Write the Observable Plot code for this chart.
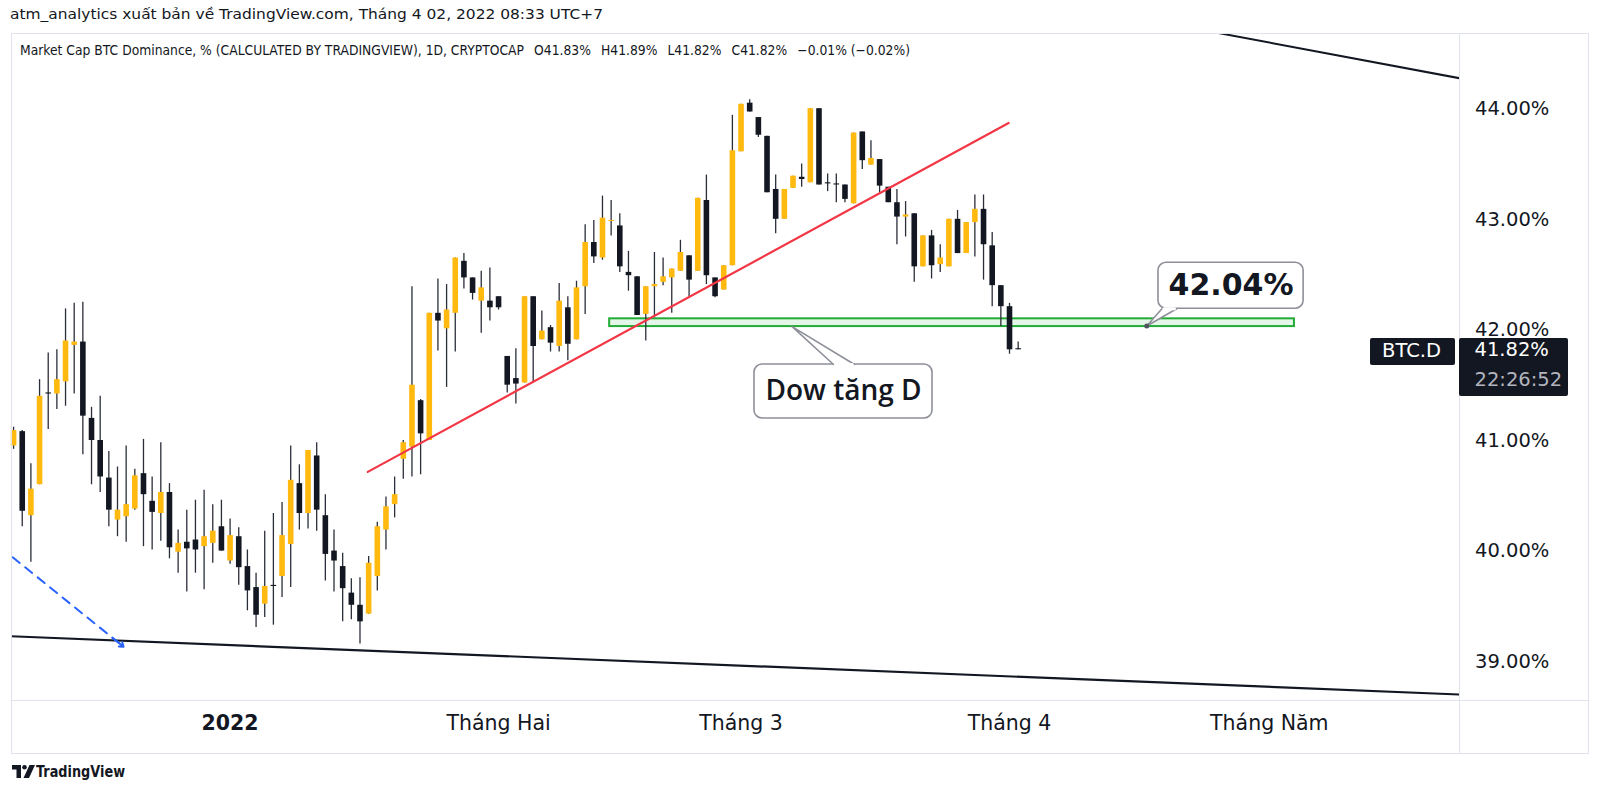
<!DOCTYPE html>
<html><head><meta charset="utf-8">
<script src="https://cdn.jsdelivr.net/npm/d3@7"></script>
<script src="https://cdn.jsdelivr.net/npm/@observablehq/plot@0.6"></script>
<style>
html,body{margin:0;padding:0;background:#fff;}
#wrap{position:relative;width:1600px;height:795px;overflow:hidden;font-family:"DejaVu Sans",sans-serif;color:#131722;}
#wrap > svg{position:absolute;left:0;top:0;}
.ov{position:absolute;white-space:nowrap;transform-origin:left center;}
.ln{position:absolute;background:#e0e3eb;}
</style></head><body><div id="wrap"></div>
<script>
// ---- daily candles, BTC dominance (%), starting 2021-12-07 ----
const startDate = "2021-12-07";
const opens = [40.95,41.08,40.32,40.60,41.43,41.42,41.53,41.86,41.89,41.20,41.00,40.66,40.28,40.31,40.38,40.70,40.45,40.34,40.53,39.99,40.08,40.10,40.04,40.07,40.22,
39.91,40.13,39.86,39.67,39.52,39.69,39.77,40.06,40.61,40.34,40.86,40.32,40.00,39.86,39.62,39.51,39.43,39.77,40.19,40.42,40.83,40.94,41.36,41.00,42.15,42.01,42.15,42.62,42.47,42.26,42.26,
42.30,41.76,41.56,41.52,42.30,41.91,42.02,41.85,42.20,41.91,42.39,42.79,42.65,42.98,42.94,42.52,42.48,42.14,42.39,42.43,42.47,42.53,42.67,42.53,43.17,42.47,42.36,42.58,
43.61,44.05,43.92,43.75,43.27,43.00,43.28,43.38,43.33,44.00,43.33,43.32,43.31,43.14,43.79,43.49,43.54,43.29,43.15,43.02,43.05,42.57,42.85,42.59,42.57,43.00,42.69,42.97,43.09,42.76,42.40,
42.21,41.83];
const highs = [41.12,41.09,40.79,41.55,41.79,41.82,42.19,42.24,42.25,41.30,41.40,40.90,40.76,40.95,40.74,41.01,40.67,40.98,40.61,40.19,40.37,40.46,40.55,40.42,40.46,
40.29,40.21,40.01,39.80,40.18,40.34,40.44,40.95,40.78,40.91,40.98,40.51,40.19,39.98,39.75,39.76,39.95,40.26,40.49,40.67,41.00,42.39,41.37,42.15,42.46,42.41,42.65,42.69,42.47,42.53,42.56,
42.30,41.76,41.83,42.30,42.30,42.17,42.04,42.42,42.30,42.44,42.95,42.99,43.21,43.17,43.05,42.71,42.48,42.39,42.70,42.65,42.55,42.81,42.67,43.19,43.40,42.47,42.58,43.94,
44.04,44.08,43.92,43.75,43.40,43.27,43.39,43.50,44.00,44.00,43.41,43.41,43.31,43.78,43.79,43.71,43.54,43.29,43.27,43.16,43.05,42.85,42.90,42.77,43.00,43.08,42.97,43.22,43.22,42.88,42.40,
42.24,41.89];
const lows = [40.92,40.22,39.90,40.60,41.10,41.28,41.31,41.42,40.87,40.60,40.53,40.22,40.13,40.08,40.37,40.04,40.01,40.09,39.93,39.80,39.63,39.80,39.65,39.89,40.00,
39.88,39.69,39.46,39.31,39.40,39.33,39.58,39.67,40.19,40.20,40.18,39.73,39.63,39.36,39.38,39.16,39.43,39.64,40.01,40.30,40.65,40.67,40.69,41.00,41.81,41.48,41.80,42.37,42.27,41.97,42.08,
42.18,41.43,41.33,41.52,41.52,41.91,41.80,41.80,41.72,41.91,42.14,42.60,42.63,42.85,42.52,42.35,42.13,41.90,42.11,42.40,42.15,42.53,42.30,42.53,42.41,42.29,42.36,42.58,
43.61,43.97,43.74,43.24,42.87,43.00,43.28,43.29,43.33,43.31,43.25,43.15,43.15,43.14,43.45,43.49,43.24,43.15,42.77,42.84,42.43,42.57,42.46,42.52,42.57,42.69,42.69,42.66,42.45,42.21,42.03,
41.78,41.82];
const closes = [41.09,40.36,40.56,41.40,41.42,41.55,41.90,41.89,41.22,41.00,40.67,40.37,40.37,40.42,40.68,40.51,40.35,40.53,40.03,40.07,40.02,40.01,40.13,40.18,40.00,
40.14,39.85,39.64,39.42,39.68,39.68,40.14,40.64,40.34,40.91,40.37,39.97,39.91,39.66,39.51,39.36,39.89,40.22,40.40,40.51,40.98,41.50,41.06,42.15,42.08,42.18,42.65,42.47,42.33,42.38,42.20,
42.20,41.50,41.51,42.30,41.85,41.99,41.88,42.26,41.87,42.38,42.79,42.66,43.01,42.99,42.57,42.49,42.13,42.39,42.41,42.48,42.55,42.70,42.45,43.19,42.49,42.30,42.58,43.62,
44.04,43.97,43.76,43.24,43.00,43.27,43.39,43.36,44.00,43.31,43.32,43.31,43.18,43.78,43.53,43.55,43.30,43.15,43.02,43.04,42.57,42.85,42.58,42.65,43.00,42.69,42.97,43.09,42.77,42.40,42.21,
41.82,41.82];

// ---- axis ticks ----
const yTicks = [39, 40, 41, 42, 43, 44];
const yearTickDates = ["2022-01-01"];
const yearTickLabels = ["2022"];
const monthTickDates = ["2022-02-01", "2022-03-01", "2022-04-01", "2022-05-01"];
const monthTickLabels = ["Tháng Hai", "Tháng 3", "Tháng 4", "Tháng Năm"];

// ---- drawings (days counted from 2022-01-01, values in %) ----
const topLineDays = [110, 142], topLineValues = [44.745, 44.275];
const bottomLineDays = [-26, 142], bottomLineValues = [39.232, 38.703];
const redLineDays = [15.9, 89.9], redLineValues = [40.716, 43.871];
const blueArrowDays = [-25.1, -12.3], blueArrowValues = [39.944, 39.135];
const zoneDays = [43.83, 122.9], zoneValues = [42.030, 42.100];
const priceNoteBoxDays = [107.2, 123.96], priceNoteBoxValues = [42.191, 42.607];
const priceNoteAnchor = [105.85, 42.035], priceNoteTailDays = [107.6, 109.3];
const priceNoteText = "42.04%";
const dowNoteBoxDays = [60.55, 81.11], dowNoteBoxValues = [41.199, 41.687];
const dowNoteAnchor = [64.9, 42.030], dowNoteTailDays = [69.68, 72.1];
const dowNoteText = "Dow tăng D";

const xDomainDays = [-25.24, 141.96];
const yDomain = [38.649, 44.680];

// ---- build ----
const base = Date.UTC(2022, 0, 1);
const T = d => new Date(base + d * 864e5);
const t0 = Date.parse(startDate + "T00:00:00Z");
const candles = opens.map((o, i) => ({date: new Date(t0 + i * 864e5), open: o, high: highs[i], low: lows[i], close: closes[i]}));
const bodyEnd = d => Math.abs(d.close - d.open) < 0.01 ? d.open + (d.close >= d.open ? 0.01 : -0.01) : d.close;
const upColor = "#FFB90F", downColor = "#131722", wickColor = "#2a2e39";
const seg = (days, vals) => days.map((d, i) => ({x: T(d), y: vals[i]}));

const blue = seg(blueArrowDays, blueArrowValues);
const blueHead = [{x1: T(blueArrowDays[0] + (blueArrowDays[1]-blueArrowDays[0])*0.9), y1: blueArrowValues[0] + (blueArrowValues[1]-blueArrowValues[0])*0.9, x2: blue[1].x, y2: blue[1].y}];

function callout(boxDays, boxVals, anchor, tailDays, tailEdgeValue) {
  return {
    box: [{x1: T(boxDays[0]), x2: T(boxDays[1]), y1: boxVals[0], y2: boxVals[1]}],
    tail: [{x: T(tailDays[0]), y: tailEdgeValue}, {x: T(anchor[0]), y: anchor[1]}, {x: T(tailDays[1]), y: tailEdgeValue}],
    cover: [{x: T(tailDays[0] + 0.25), y: tailEdgeValue}, {x: T(tailDays[1] - 0.25), y: tailEdgeValue}],
    center: [{x: T((boxDays[0] + boxDays[1]) / 2), y: (boxVals[0] + boxVals[1]) / 2}]
  };
}
const pn = callout(priceNoteBoxDays, priceNoteBoxValues, priceNoteAnchor, priceNoteTailDays, priceNoteBoxValues[0]);
const dn = callout(dowNoteBoxDays, dowNoteBoxValues, dowNoteAnchor, dowNoteTailDays, dowNoteBoxValues[1]);
const noteStroke = "#8e9099";

const labelMap = new Map();
monthTickDates.forEach((d, i) => labelMap.set(+new Date(d + "T00:00:00Z"), monthTickLabels[i]));
yearTickDates.forEach((d, i) => labelMap.set(+new Date(d + "T00:00:00Z"), yearTickLabels[i]));

const chart = Plot.plot({
  width: 1600, height: 795,
  marginLeft: 11, marginRight: 141, marginTop: 33, marginBottom: 95,
  x: {type: "utc", domain: xDomainDays.map(T)},
  y: {domain: yDomain},
  style: {fontFamily: "DejaVu Sans, sans-serif", background: "transparent", color: "#131722", overflow: "visible"},
  marks: [
    Plot.rect([{x1: T(zoneDays[0]), x2: T(zoneDays[1]), y1: zoneValues[0], y2: zoneValues[1]}], {x1: "x1", x2: "x2", y1: "y1", y2: "y2", fill: "#e4f6e7", stroke: "#22ab35", strokeWidth: 2}),
    Plot.ruleX(candles, {x: "date", y1: "low", y2: "high", stroke: wickColor, strokeWidth: 1.3}),
    Plot.ruleX(candles.filter(d => d.close >= d.open), {x: "date", y1: "open", y2: bodyEnd, stroke: upColor, strokeWidth: 5.6}),
    Plot.ruleX(candles.filter(d => d.close < d.open), {x: "date", y1: "open", y2: bodyEnd, stroke: downColor, strokeWidth: 5.6}),
    Plot.line(seg(bottomLineDays, bottomLineValues), {x: "x", y: "y", stroke: "#131722", strokeWidth: 2.2, clip: true}),
    Plot.line(seg(topLineDays, topLineValues), {x: "x", y: "y", stroke: "#131722", strokeWidth: 2, clip: true}),
    Plot.line(seg(redLineDays, redLineValues), {x: "x", y: "y", stroke: "#f23645", strokeWidth: 2.2, clip: true}),
    Plot.line(blue, {x: "x", y: "y", stroke: "#2962ff", strokeWidth: 2, strokeDasharray: "9,7", clip: true}),
    Plot.arrow(blueHead, {x1: "x1", y1: "y1", x2: "x2", y2: "y2", stroke: "#2962ff", strokeWidth: 2, headLength: 16, headAngle: 70, bend: 0}),
    // callout: 42.04%
    Plot.rect(pn.box, {x1: "x1", x2: "x2", y1: "y1", y2: "y2", fill: "white", stroke: noteStroke, strokeWidth: 1.6, rx: 8}),
    Plot.line(pn.tail, {x: "x", y: "y", stroke: noteStroke, strokeWidth: 1.6, fill: "white"}),
    Plot.line(pn.cover, {x: "x", y: "y", stroke: "white", strokeWidth: 3}),
    Plot.dot([{x: T(priceNoteAnchor[0]), y: priceNoteAnchor[1]}], {x: "x", y: "y", r: 2.5, fill: "#50535e"}),
    Plot.text(pn.center, {x: "x", y: "y", text: () => priceNoteText, fontSize: 30, fontWeight: "bold", fill: "#131722"}),
    // callout: Dow tăng D
    Plot.rect(dn.box, {x1: "x1", x2: "x2", y1: "y1", y2: "y2", fill: "white", stroke: noteStroke, strokeWidth: 1.6, rx: 8}),
    Plot.line(dn.tail, {x: "x", y: "y", stroke: noteStroke, strokeWidth: 1.6, fill: "white"}),
    Plot.line(dn.cover, {x: "x", y: "y", stroke: "white", strokeWidth: 3}),
    Plot.text(dn.center, {x: "x", y: "y", text: () => dowNoteText, fontSize: 28, fontWeight: 600, fontFamily: "Open Sans, Noto Sans, sans-serif", fill: "#131722"}),
    // axes
    Plot.axisY(yTicks, {anchor: "right", tickSize: 0, tickPadding: 15.5, tickFormat: d => d.toFixed(2) + "%", fontSize: 19.5, label: null, textAnchor: "start"}),
    Plot.axisX(monthTickDates.map(d => new Date(d + "T00:00:00Z")), {anchor: "bottom", tickSize: 0, tickPadding: 15, tickFormat: d => labelMap.get(+d), fontSize: 20.5, label: null}),
    Plot.axisX(yearTickDates.map(d => new Date(d + "T00:00:00Z")), {anchor: "bottom", tickSize: 0, tickPadding: 15, tickFormat: d => labelMap.get(+d), fontSize: 20.5, fontWeight: "bold", label: null})
  ]
});

const wrap = document.getElementById("wrap");
wrap.appendChild(chart);

// frame lines
function line(l, t, w, h) { const e = document.createElement("div"); e.className = "ln"; Object.assign(e.style, {left: l + "px", top: t + "px", width: w + "px", height: h + "px"}); wrap.appendChild(e); }
line(11, 33, 1578, 1); line(11, 753, 1578, 1); line(11, 33, 1, 721); line(1588, 33, 1, 721);
line(11, 700, 1578, 1); line(1459, 33, 1, 721);

function txt(s, left, cy, size, opts = {}) {
  const e = document.createElement("div"); e.className = "ov"; e.textContent = s;
  Object.assign(e.style, {left: left + "px", top: (cy - size * 0.6) + "px", fontSize: size + "px", lineHeight: (size * 1.2) + "px"}, opts.style || {});
  (opts.parent || wrap).appendChild(e);
  if (opts.width) { const w = e.getBoundingClientRect().width; if (w > 0) e.style.transform = `scaleX(${opts.width / w})`; }
  return e;
}

const last = candles[candles.length - 1];
const f = v => v.toFixed(2) + "%";
txt("atm_analytics xuất bản về TradingView.com, Tháng 4 02, 2022 08:33 UTC+7", 10, 14.3, 14, {width: 593});
txt(`Market Cap BTC Dominance, % (CALCULATED BY TRADINGVIEW), 1D, CRYPTOCAP\u2002 O${f(last.open)}\u2002 H${f(last.high)}\u2002 L${f(last.low)}\u2002 C${f(last.close)}\u2002 −0.01% (−0.02%)`, 20.4, 50, 14, {width: 890});

// price labels
const yPx = chart.scale("y").apply(last.close);
const pb = document.createElement("div");
Object.assign(pb.style, {position: "absolute", left: "1459px", top: (yPx - 11.5) + "px", width: "109px", height: "58px", background: "#131722", borderRadius: "2px"});
wrap.appendChild(pb);
txt(f(last.close), 1474.5, yPx, 19.5, {style: {color: "#ffffff"}});
txt("22:26:52", 1474.5, yPx + 30.3, 19.5, {style: {color: "#b2b5be"}});
const sb = document.createElement("div");
Object.assign(sb.style, {position: "absolute", left: "1370px", top: (yPx - 11.5) + "px", width: "85px", height: "27.5px", background: "#131722", borderRadius: "2px"});
wrap.appendChild(sb);
txt("BTC.D", 1382, yPx + 1.5, 19.5, {style: {color: "#ffffff"}});

// footer logo + text
const logo = document.createElementNS("http://www.w3.org/2000/svg", "svg");
logo.setAttribute("width", "24"); logo.setAttribute("height", "14");
logo.style.cssText = "position:absolute;left:12px;top:765px;";
logo.innerHTML = '<path d="M0 0H9V13H4.5V4.5H0Z" fill="#131722"/><circle cx="12.5" cy="2.3" r="2.3" fill="#131722"/><path d="M17.5 0H23L17 13H11.5Z" fill="#131722"/>';
wrap.appendChild(logo);
txt("TradingView", 36, 772, 15, {width: 89, style: {fontWeight: 600}});
</script></body></html>
